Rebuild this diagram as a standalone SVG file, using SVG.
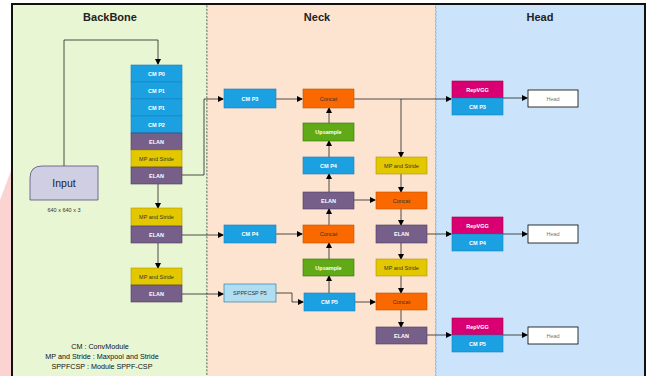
<svg xmlns="http://www.w3.org/2000/svg" width="649" height="376" viewBox="0 0 649 376">
<defs>
<marker id="ah" markerWidth="6" markerHeight="6" refX="5" refY="3" orient="auto" markerUnits="userSpaceOnUse">
<path d="M0,0 L6,3 L0,6 Z" fill="#000"/>
</marker>
<style>
.t{font-family:"Liberation Sans",Arial,sans-serif;}
.title{font-size:11px;font-weight:bold;fill:#222;text-anchor:middle;}
.lbl{font-size:5.5px;text-anchor:middle;dominant-baseline:central;font-family:"Liberation Sans",Arial,sans-serif;}
.w{fill:#fff;font-weight:bold;}
.d{fill:#333;}
.cm{fill:#1ba1e2;stroke:#1a7fbf;stroke-width:0.6;}
.elan{fill:#76608a;stroke:#4a3a5c;stroke-width:0.6;}
.mp{fill:#e3c800;stroke:#b09500;stroke-width:0.6;}
.cc{fill:#fa6800;stroke:#c35100;stroke-width:0.6;}
.up{fill:#60a917;stroke:#2d7600;stroke-width:0.6;}
.rep{fill:#d80073;stroke:#a50040;stroke-width:0.6;}
.sp{fill:#b1ddf0;stroke:#10739e;stroke-width:0.6;}
.hd{fill:#fff;stroke:#000;stroke-width:0.8;}
.c{fill:none;stroke:#222;stroke-width:0.8;}
.ca{fill:none;stroke:#222;stroke-width:0.8;marker-end:url(#ah);}
.leg{font-size:7.2px;fill:#111;text-anchor:middle;font-family:"Liberation Sans",Arial,sans-serif;}
</style>
</defs>
<rect x="0" y="0" width="649" height="376" fill="#fff"/>
<polygon points="0,200 12,168 12,376 0,376" fill="#fbd3d3"/>
<g id="panels">
<rect x="12" y="4" width="195" height="380" fill="#e9f6d4" stroke="#555" stroke-width="0.7" stroke-dasharray="2,1.5"/>
<rect x="207" y="4" width="229" height="380" fill="#fde4d0" stroke="#555" stroke-width="0.7" stroke-dasharray="2,1.5"/>
<rect x="436" y="4" width="209" height="380" fill="#cce4fb" stroke="#7aa6d6" stroke-width="0.7" stroke-dasharray="2,1.5"/>
<rect x="12" y="4" width="633" height="380" fill="none" stroke="#111" stroke-width="2"/>
<text class="t title" x="110" y="21">BackBone</text>
<text class="t title" x="317" y="21">Neck</text>
<text class="t title" x="540" y="21">Head</text>
</g>
<g id="connectors">
<path class="ca" d="M64,166 V40 H158 V64"/>
<path class="ca" d="M158,184 V208"/>
<path class="ca" d="M158,243 V268"/>
<path class="ca" d="M182,175 H204 V99 H223"/>
<path class="ca" d="M182,235 H223"/>
<path class="ca" d="M182,294 H223"/>
<path class="ca" d="M276,99 H302"/>
<path class="ca" d="M329,123 V108"/>
<path class="ca" d="M329,157 V141"/>
<path class="ca" d="M329,192 V174"/>
<path class="ca" d="M329,225 V209"/>
<path class="ca" d="M329,259 V243"/>
<path class="ca" d="M329,293 V276"/>
<path class="ca" d="M276,234 H302"/>
<path class="ca" d="M276,293 H292 V302 H303"/>
<path class="ca" d="M354,200 H375"/>
<path class="ca" d="M355,302 H375"/>
<path class="ca" d="M354,99 H451"/>
<path class="ca" d="M401,99 V157"/>
<path class="ca" d="M401,174 V192"/>
<path class="ca" d="M401,209 V225"/>
<path class="ca" d="M401,243 V259"/>
<path class="ca" d="M401,276 V293"/>
<path class="ca" d="M401,310 V327"/>
<path class="ca" d="M427,234 H451"/>
<path class="ca" d="M427,335 H451"/>
<path class="ca" d="M503,98 H527"/>
<path class="ca" d="M503,234 H527"/>
<path class="ca" d="M503,335 H527"/>
</g>
<g id="input">
<path d="M42,166 H98 V200 H30 V178 Q30,166 42,166 Z" fill="#d0cee2" stroke="#56517e" stroke-width="0.8"/>
<text class="t" x="64" y="187" font-size="10.5" fill="#222" text-anchor="middle">Input</text>
<text class="t" x="64" y="212" font-size="5.5" fill="#333" text-anchor="middle">640 x 640 x 3</text>
</g>
<g id="bb-cm-p0"><rect class="cm" x="131" y="65" width="51" height="17"/><text class="lbl w" x="156.5" y="73.5">CM P0</text></g>
<g id="bb-cm-p1a"><rect class="cm" x="131" y="82" width="51" height="17"/><text class="lbl w" x="156.5" y="90.5">CM P1</text></g>
<g id="bb-cm-p1b"><rect class="cm" x="131" y="99" width="51" height="17"/><text class="lbl w" x="156.5" y="107.5">CM P1</text></g>
<g id="bb-cm-p2"><rect class="cm" x="131" y="116" width="51" height="17"/><text class="lbl w" x="156.5" y="124.5">CM P2</text></g>
<g id="bb-elan1"><rect class="elan" x="131" y="133" width="51" height="17"/><text class="lbl w" x="156.5" y="141.5">ELAN</text></g>
<g id="bb-mp1"><rect class="mp" x="131" y="150" width="51" height="17"/><text class="lbl d" x="156.5" y="158.5">MP and Stride</text></g>
<g id="bb-elan2"><rect class="elan" x="131" y="167" width="51" height="17"/><text class="lbl w" x="156.5" y="175.5">ELAN</text></g>
<g id="bb-mp2"><rect class="mp" x="131" y="208" width="51" height="18"/><text class="lbl d" x="156.5" y="217">MP and Stride</text></g>
<g id="bb-elan3"><rect class="elan" x="131" y="226" width="51" height="17"/><text class="lbl w" x="156.5" y="234.5">ELAN</text></g>
<g id="bb-mp3"><rect class="mp" x="131" y="268" width="51" height="17"/><text class="lbl d" x="156.5" y="276.5">MP and Stride</text></g>
<g id="bb-elan4"><rect class="elan" x="131" y="285" width="51" height="17"/><text class="lbl w" x="156.5" y="293.5">ELAN</text></g>
<g id="legend">
<text class="leg" x="100" y="349">CM : ConvModule</text>
<text class="leg" x="102" y="359">MP and Stride : Maxpool and Stride</text>
<text class="leg" x="102" y="369">SPPFCSP : Module SPPF-CSP</text>
</g>
<g id="nk-cm-p3"><rect class="cm" x="224" y="89" width="52" height="19"/><text class="lbl w" x="250" y="98.5">CM P3</text></g>
<g id="nk-concat1"><rect class="cc" x="303" y="89" width="51" height="19"/><text class="lbl d" x="328.5" y="98.5">Concat</text></g>
<g id="nk-up1"><rect class="up" x="303" y="123" width="51" height="18"/><text class="lbl w" x="328.5" y="132">Upsample</text></g>
<g id="nk-cm-p4a"><rect class="cm" x="303" y="157" width="51" height="17"/><text class="lbl w" x="328.5" y="165.5">CM P4</text></g>
<g id="nk-elan1"><rect class="elan" x="303" y="192" width="51" height="17"/><text class="lbl w" x="328.5" y="200.5">ELAN</text></g>
<g id="nk-cm-p4b"><rect class="cm" x="224" y="225" width="52" height="18"/><text class="lbl w" x="250" y="234">CM P4</text></g>
<g id="nk-concat2"><rect class="cc" x="303" y="225" width="51" height="18"/><text class="lbl d" x="328.5" y="234">Concat</text></g>
<g id="nk-up2"><rect class="up" x="303" y="259" width="51" height="17"/><text class="lbl w" x="328.5" y="267.5">Upsample</text></g>
<g id="nk-spp"><rect class="sp" x="224" y="284" width="52" height="18"/><text class="lbl d" x="250" y="293">SPPFCSP P5</text></g>
<g id="nk-cm-p5"><rect class="cm" x="304" y="293" width="51" height="18"/><text class="lbl w" x="329.5" y="302">CM P5</text></g>
<g id="nk-mp1"><rect class="mp" x="376" y="157" width="51" height="17"/><text class="lbl d" x="401.5" y="165.5">MP and Stride</text></g>
<g id="nk-concat3"><rect class="cc" x="376" y="192" width="51" height="17"/><text class="lbl d" x="401.5" y="200.5">Concat</text></g>
<g id="nk-elan2"><rect class="elan" x="376" y="225" width="51" height="18"/><text class="lbl w" x="401.5" y="234">ELAN</text></g>
<g id="nk-mp2"><rect class="mp" x="376" y="259" width="51" height="17"/><text class="lbl d" x="401.5" y="267.5">MP and Stride</text></g>
<g id="nk-concat4"><rect class="cc" x="376" y="293" width="51" height="17"/><text class="lbl d" x="401.5" y="301.5">Concat</text></g>
<g id="nk-elan3"><rect class="elan" x="376" y="327" width="51" height="17"/><text class="lbl w" x="401.5" y="335.5">ELAN</text></g>
<g id="hd-rep1"><rect class="rep" x="452" y="81" width="51" height="17"/><text class="lbl w" x="477.5" y="89.5">RepVGG</text><rect class="cm" x="452" y="98" width="51" height="17"/><text class="lbl w" x="477.5" y="106.5">CM P3</text></g>
<g id="hd-head1"><rect class="hd" x="528" y="90" width="50" height="17"/><text class="lbl" fill="#777" x="553" y="98.5">Head</text></g>
<g id="hd-rep2"><rect class="rep" x="452" y="217" width="51" height="17"/><text class="lbl w" x="477.5" y="225.5">RepVGG</text><rect class="cm" x="452" y="234" width="51" height="17"/><text class="lbl w" x="477.5" y="242.5">CM P4</text></g>
<g id="hd-head2"><rect class="hd" x="528" y="225" width="50" height="18"/><text class="lbl" fill="#777" x="553" y="234">Head</text></g>
<g id="hd-rep3"><rect class="rep" x="452" y="318" width="51" height="17"/><text class="lbl w" x="477.5" y="326.5">RepVGG</text><rect class="cm" x="452" y="335" width="51" height="17"/><text class="lbl w" x="477.5" y="343.5">CM P5</text></g>
<g id="hd-head3"><rect class="hd" x="528" y="327" width="50" height="17"/><text class="lbl" fill="#777" x="553" y="335.5">Head</text></g>
</svg>
